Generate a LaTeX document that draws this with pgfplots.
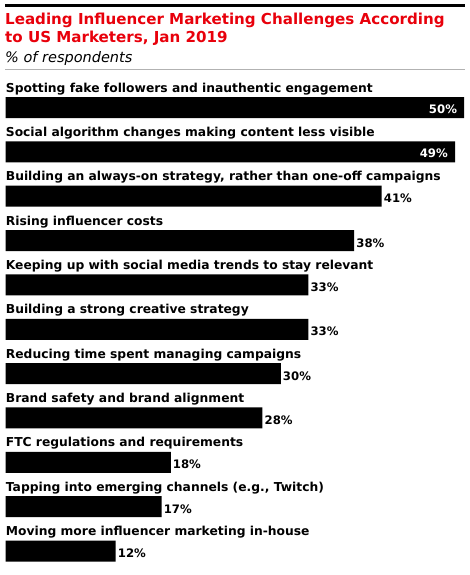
\documentclass[border=0pt]{standalone}
\usepackage{fontspec}
\setmainfont{DejaVu Sans}
\usepackage{pgfplots}
\pgfplotsset{compat=1.18}
\definecolor{emRed}{HTML}{E8000B}

\begin{document}
\begin{tikzpicture}
\useasboundingbox (0,0) rectangle (470bp,575bp);
% header
\draw[line width=3bp] (5bp,569.5bp) -- (465bp,569.5bp);
\node[anchor=base west, inner sep=0pt, text=emRed, font=\fontsize{15.1bp}{18bp}\selectfont\bfseries]
  at (5bp,550bp) {Leading Influencer Marketing Challenges According};
\node[anchor=base west, inner sep=0pt, text=emRed, font=\fontsize{15.1bp}{18bp}\selectfont\bfseries]
  at (5bp,532bp) {to US Marketers, Jan 2019};
\node[anchor=base west, inner sep=0pt, font=\fontsize{14.5bp}{16bp}\selectfont\itshape]
  at (5bp,512bp) {\% of respondents};
\draw[line width=0.8bp, gray!60] (5bp,505.5bp) -- (465bp,505.5bp);

\begin{axis}[
  at={(5.7bp,1.8bp)}, anchor=south west,
  scale only axis,
  width=458.5bp, height=487.85bp,
  xmin=0, xmax=50, ymin=0.5, ymax=11.5,
  y dir=reverse,
  xbar, bar width=21bp, bar shift=0pt,
  axis line style={draw=none},
  major tick length=0pt,
  xtick=\empty,
  ytick={1,...,11},
  yticklabels={
    Spotting fake followers and inauthentic engagement,
    Social algorithm changes making content less visible,
    {Building an always-on strategy, rather than one-off campaigns},
    Rising influencer costs,
    Keeping up with social media trends to stay relevant,
    Building a strong creative strategy,
    Reducing time spent managing campaigns,
    Brand safety and brand alignment,
    FTC regulations and requirements,
    {Tapping into emerging channels (e.g., Twitch)},
    Moving more influencer marketing in-house},
  yticklabel style={anchor=base west, inner sep=0pt, yshift=15.5bp,
    font=\fontsize{12.3bp}{15bp}\selectfont\bfseries},
  point meta=x,
  /pgf/number format/assume math mode=true,
  nodes near coords={\pgfmathprintnumber{\pgfplotspointmeta}\%},
  nodes near coords style={font=\fontsize{11.7bp}{15bp}\selectfont\bfseries, inner sep=0pt},
  clip=false,
]
\addplot[fill=black, draw=none,
  every node near coord/.append style={anchor=base east, text=white, xshift=-7bp, yshift=-5.5bp}]
  coordinates {(50,1) (49,2)};
\addplot[fill=black, draw=none,
  every node near coord/.append style={anchor=base west, text=black, xshift=2bp, yshift=-6.5bp}]
  coordinates {(41,3) (38,4) (33,5) (33,6) (30,7) (28,8) (18,9) (17,10) (12,11)};
\end{axis}
\end{tikzpicture}
\end{document}
